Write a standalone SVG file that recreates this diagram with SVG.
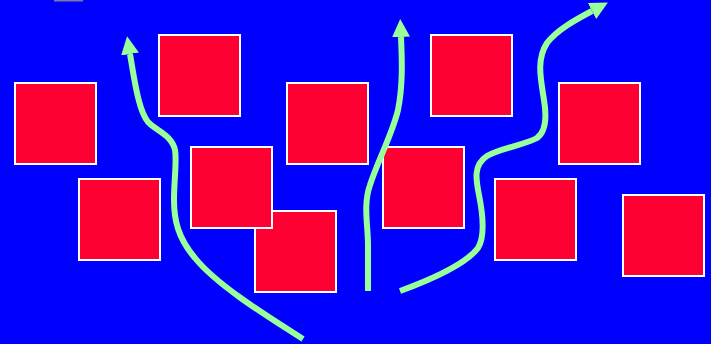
<svg xmlns="http://www.w3.org/2000/svg" width="711" height="344" viewBox="0 0 711 344">
<style>
.box{fill:#ff0033;stroke:#ffffff;stroke-width:2}
.flow{fill:none;stroke:#99ff99;stroke-width:6}
</style>
<defs>
<marker id="ah" markerUnits="userSpaceOnUse" viewBox="0 -10 20 20" markerWidth="20" markerHeight="20" refX="0" refY="0" orient="auto">
<path d="M0,-9 L18,0 L0,9 z" fill="#99ff99"/>
</marker>
</defs>
<rect x="0" y="0" width="711" height="344" fill="#0000ff"/>
<rect x="54" y="0" width="29" height="1.5" fill="#7777aa"/>
<g id="nodeA"><rect class="box" x="15" y="83" width="81" height="81"/></g>
<g id="nodeB"><rect class="box" x="79" y="179" width="81" height="81"/></g>
<g id="nodeC"><rect class="box" x="159" y="35" width="81" height="81"/></g>
<g id="nodeE"><rect class="box" x="255" y="211" width="81" height="81"/></g>
<g id="nodeD"><rect class="box" x="191" y="147" width="81" height="81"/></g>
<g id="nodeF"><rect class="box" x="287" y="83" width="81" height="81"/></g>
<g id="nodeG"><rect class="box" x="383" y="147" width="81" height="81"/></g>
<g id="nodeH"><rect class="box" x="431" y="35" width="81" height="81"/></g>
<g id="nodeI"><rect class="box" x="495" y="179" width="81" height="81"/></g>
<g id="nodeJ"><rect class="box" x="559" y="83" width="81" height="81"/></g>
<g id="nodeK"><rect class="box" x="623" y="195" width="81" height="81"/></g>
<g id="connectors">
<path class="flow" marker-end="url(#ah)" d="M303,339 C260,312 215,283 195,258 C178,238 174,220 174,200 C174,180 177,160 175,150 C172,135 155,130 148,122 C140,112 136,90 132,66 L130,54"/>
<path class="flow" marker-end="url(#ah)" d="M368,291 L368,245 C368,225 363,205 370,185 C378,160 392,135 398,110 C403,85 402,60 401,37"/>
<path class="flow" marker-end="url(#ah)" d="M400,291 C430,280 465,265 478,248 C486,235 482,210 479,195 C476,180 473,165 487,156 C500,148 525,145 537,138 C548,130 546,112 544,100 C541,80 536,60 547,43 C557,30 575,20 592,11"/>
</g>
</svg>
